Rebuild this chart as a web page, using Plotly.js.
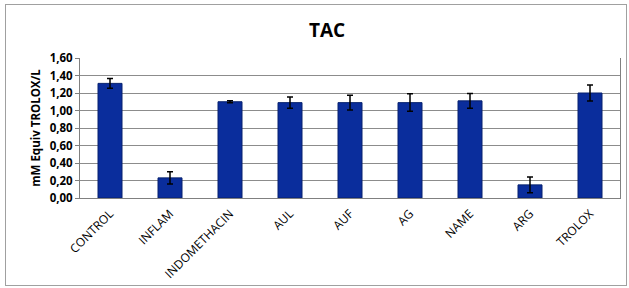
<!DOCTYPE html>
<html><head><meta charset="utf-8">
<script src="https://cdn.plot.ly/plotly-3.0.1.min.js"></script>
<style>
html,body{margin:0;padding:0;background:#fff;}
#frame{position:absolute;left:5px;top:4px;width:620px;height:280px;border:1px solid #a0a0a0;}
#chart{position:absolute;left:0;top:0;width:629px;height:288px;}
</style></head>
<body>
<div id="frame"></div>
<div id="chart"></div>
<script>
const categories = ["CONTROL","INFLAM","INDOMETHACIN","AUL","AUF","AG","NAME","ARG","TROLOX"];
const values = [1.31, 0.23, 1.10, 1.09, 1.09, 1.09, 1.11, 0.15, 1.20];
const errors = [0.055, 0.07, 0.01, 0.065, 0.085, 0.10, 0.083, 0.09, 0.092];
const yTicks = [0,0.2,0.4,0.6,0.8,1.0,1.2,1.4,1.6];
const yTickText = ["0,00","0,20","0,40","0,60","0,80","1,00","1,20","1,40","1,60"];

const trace = {
  type:'bar', x:categories, y:values,
  marker:{color:'#0a2d9c', line:{color:'#06206e', width:1}},
  width:0.4,
  error_y:{type:'data', array:errors, visible:true, color:'#000', thickness:1.5, width:3}
};
const layout = {
  width:629, height:288,
  margin:{l:80, r:9, t:58, b:90},
  paper_bgcolor:'rgba(0,0,0,0)', plot_bgcolor:'#fff',
  font:{family:'"Open Sans", "Liberation Sans", sans-serif', color:'#000'},
  title:{text:'<b>TAC</b>', x:0.52, xanchor:'center', y:0.895, yanchor:'middle', font:{size:19, color:'#000'}},
  showlegend:false,
  xaxis:{tickangle:-45, tickfont:{size:12, family:'"Open Sans", sans-serif', color:'#000'}, showline:true, linecolor:'#808080', linewidth:1, ticks:'outside', ticklen:3, tickcolor:'rgba(0,0,0,0)', showgrid:false},
  yaxis:{range:[0,1.6], tickvals:yTicks, ticktext:yTickText, tickfont:{size:11.5, family:'"Open Sans", sans-serif', weight:'bold', color:'#000'},
    showgrid:true, gridcolor:'#8c8c8c', gridwidth:1, showline:true, linecolor:'#808080', mirror:true, ticks:'outside', ticklen:4, tickcolor:'#808080',
    title:{text:'<b>mM Equiv TROLOX/L</b>', font:{size:11.5, color:'#000'}, standoff:6}, zeroline:false}
};
Plotly.newPlot('chart',[trace],layout,{displayModeBar:false, staticPlot:true});
</script>
</body></html>
